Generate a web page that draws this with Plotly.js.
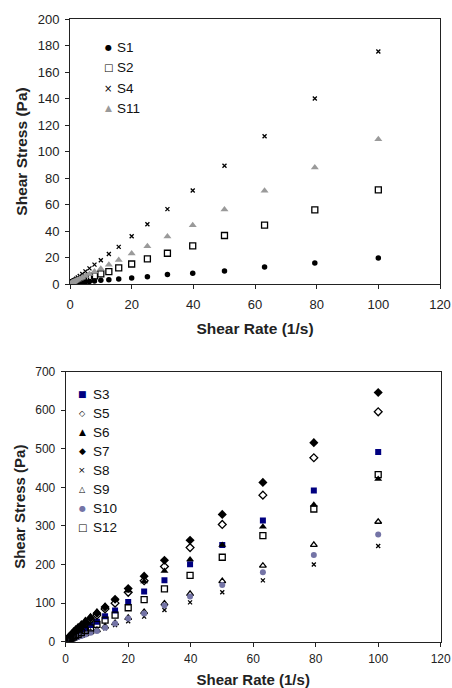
<!DOCTYPE html>
<html><head><meta charset="utf-8">
<script src="https://cdn.plot.ly/plotly-3.0.1.min.js"></script>
<style>html,body{margin:0;padding:0;background:#fff;}#chart{width:452px;height:688px;}</style>
</head><body><div id="chart"></div>
<script>
// Shear rates (1/s)
const shearRate = [100,79.4,63.1,50.1,39.8,31.6,25.1,20,15.8,12.6,10,7.94,6.31,5.01,3.98,3.16,2.51,2,1.58,1.26,1,0.79,0.63,0.5,0.4];

// Top chart series (Pa)
const S1  = [19.7,15.9,12.9,9.8,8.1,7.1,5.5,4.5,3.8,3.3,2.8,2.3,1.9,1.6,1.3,1.1,0.9,0.75,0.6,0.5,0.42,0.35,0.29,0.24,0.2];
const S2  = [71.1,56,44.4,36.6,28.8,23.2,18.9,15.1,12.1,9.3,7.6,6.1,4.9,3.9,3.2,2.6,2.1,1.7,1.4,1.1,0.9,0.72,0.58,0.47,0.38];
const S4  = [175.5,140,111.5,89.3,70.6,56.5,45.1,36.1,28,22.7,17.9,14.6,11.8,9.5,7.6,6.1,4.9,3.9,3.2,2.6,2.1,1.7,1.4,1.1,0.9];
const S11 = [109.2,88,70.4,56.2,44.4,35.8,28.5,23,18.2,14.6,11.6,9.4,7.6,6.1,4.9,4,3.2,2.6,2.1,1.7,1.4,1.1,0.9,0.75,0.6];

// Bottom chart series (Pa)
const S3  = [492,392,314,251,201,159,130,103,81,66,52,43,35,29,24,19,16,13,11,9,7.5,6.2,5.1,4.2,3.5];
const S5  = [596,477,380,304,244,195,158,128,100,85,69,57,47,39,32,27,22,18,15,12.5,10.5,8.7,7.2,6,5];
const S6  = [422,355,298,251,213,183,156,132,110,93,78,66,56,47,40,34,29,24,20,17,14.5,12,10,8.6,7.3];
const S7  = [646,516,413,330,263,211,170,138,110,90,74,61,50,41,34,28,23,19,16,13,11,9,7.5,6.2,5.1];
const S8  = [248,200,159,128,102,82,65,53,43,35,28,23,19,15.5,12.7,10.4,8.5,7,5.7,4.7,3.9,3.2,2.6,2.1,1.7];
const S9  = [311,251,197,157,124,99,77,62,48,39,30,25,20,16,13,10.5,8.5,7,5.6,4.5,3.6,2.9,2.3,1.9,1.5];
const S10 = [278,225,180,147,117,94,73,60,47,36,28,23,18.5,15,12,9.8,8,6.5,5.3,4.3,3.5,2.8,2.3,1.9,1.5];
const S12 = [433,344,275,219,172,137,109,88,69,56,45,36,29,23.5,19,15.5,12.5,10,8.2,6.7,5.4,4.4,3.6,2.9,2.4];

const topNames = ['S1','S2','S4','S11'];
const topSeries = [S1,S2,S4,S11];
const botNames = ['S3','S5','S6','S7','S8','S9','S10','S12'];
const botSeries = [S3,S5,S6,S7,S8,S9,S10,S12];

// styles
const styles = {
  S1:  {symbol:'circle', color:'#000', size:5.5, glyph:'●', gsize:8},
  S2:  {symbol:'square-open', color:'#000', size:6, glyph:'□', gsize:10},
  S4:  {symbol:'x-thin-open', color:'#000', size:4, glyph:'×', gsize:10},
  S11: {symbol:'triangle-up', color:'#9a9a9a', size:7, glyph:'▲', gsize:9},
  S3:  {symbol:'square', color:'#000080', size:6, glyph:'■', gsize:9},
  S5:  {symbol:'diamond-open', color:'#000', size:6, glyph:'◇', gsize:8},
  S6:  {symbol:'triangle-up', color:'#000', size:7, glyph:'▲', gsize:9},
  S7:  {symbol:'diamond', color:'#000', size:7, glyph:'◆', gsize:9},
  S8:  {symbol:'x-thin-open', color:'#000', size:4, glyph:'×', gsize:9},
  S9:  {symbol:'triangle-up-open', color:'#000', size:6, glyph:'△', gsize:8},
  S10: {symbol:'circle', color:'#7474a6', size:6, glyph:'●', gsize:8},
  S12: {symbol:'square-open', color:'#000', size:6, glyph:'□', gsize:10}
};

function mk(name, y, xa, ya){
  const s = styles[name];
  return {x: shearRate, y: y, name: name, type:'scatter', mode:'markers', xaxis: xa, yaxis: ya,
    showlegend:false,
    marker:{symbol:s.symbol, size:s.size, color:s.color, line:{color:s.color, width: s.symbol.indexOf('open')>=0 ? 1.3 : 0}}};
}
const traces = [];
topNames.forEach((n,i)=>traces.push(mk(n, topSeries[i], 'x', 'y')));
botNames.forEach((n,i)=>traces.push(mk(n, botSeries[i], 'x2', 'y2')));

const W=452, H=688;
const annotations = [];
function legend(names, mx, tx, y0, step){
  names.forEach((n,i)=>{
    const s = styles[n];
    const py = y0 + i*step;
    annotations.push({xref:'paper', yref:'paper', x:mx/W, y:1-py/H, xanchor:'center', yanchor:'middle',
      text:s.glyph, showarrow:false, font:{family:'DejaVu Sans', size:s.gsize, color:s.color}});
    annotations.push({xref:'paper', yref:'paper', x:tx/W, y:1-py/H, xanchor:'left', yanchor:'middle',
      text:n, showarrow:false, font:{family:'Liberation Sans, Arial', size:13.5, color:'#111'}});
  });
}
legend(topNames, 108.3, 115, 47.7, 20.2);
legend(botNames, 82.3, 90.5, 394, 19.05);

const axBase = {showgrid:false, zeroline:false, showline:true, linecolor:'#222', linewidth:1, mirror:true,
  ticks:'outside', ticklen:4, tickcolor:'#222', tickfont:{family:'Liberation Sans, Arial', size:13, color:'#222'}};

const layout = {
  width:W, height:H, margin:{l:0,r:0,t:0,b:0}, paper_bgcolor:'#fff', plot_bgcolor:'#fff',
  showlegend:false,
  xaxis: Object.assign({}, axBase, {domain:[70/W, 440/W], range:[0,120], dtick:20, anchor:'y', ticklabelstandoff:4,
    title:{text:'<b>Shear Rate (1/s)</b>', font:{family:'Liberation Sans, Arial', size:15.5, color:'#222'}, standoff:12}}),
  yaxis: Object.assign({}, axBase, {domain:[1-284/H, 1-19/H], range:[0,200], dtick:20, anchor:'x', ticklabelstandoff:3,
    title:{text:'<b>Shear Stress (Pa)</b>', font:{family:'Liberation Sans, Arial', size:15.5, color:'#222'}, standoff:6}}),
  xaxis2: Object.assign({}, axBase, {domain:[65.7/W, 440.7/W], range:[0,120], dtick:20, anchor:'y2', ticklabelstandoff:2,
    tickfont:{family:'Liberation Sans, Arial', size:12, color:'#222'},
    title:{text:'<b>Shear Rate (1/s)</b>', font:{family:'Liberation Sans, Arial', size:15, color:'#222'}, standoff:9}}),
  yaxis2: Object.assign({}, axBase, {domain:[1-641.7/H, 1-371.7/H], range:[0,700], dtick:100, anchor:'x2', ticklabelstandoff:3,
    tickfont:{family:'Liberation Sans, Arial', size:12, color:'#222'},
    title:{text:'<b>Shear Stress (Pa)</b>', font:{family:'Liberation Sans, Arial', size:15, color:'#222'}, standoff:6}}),
  annotations: annotations
};
Plotly.newPlot('chart', traces, layout, {staticPlot:true, displayModeBar:false});
</script>
</body></html>
